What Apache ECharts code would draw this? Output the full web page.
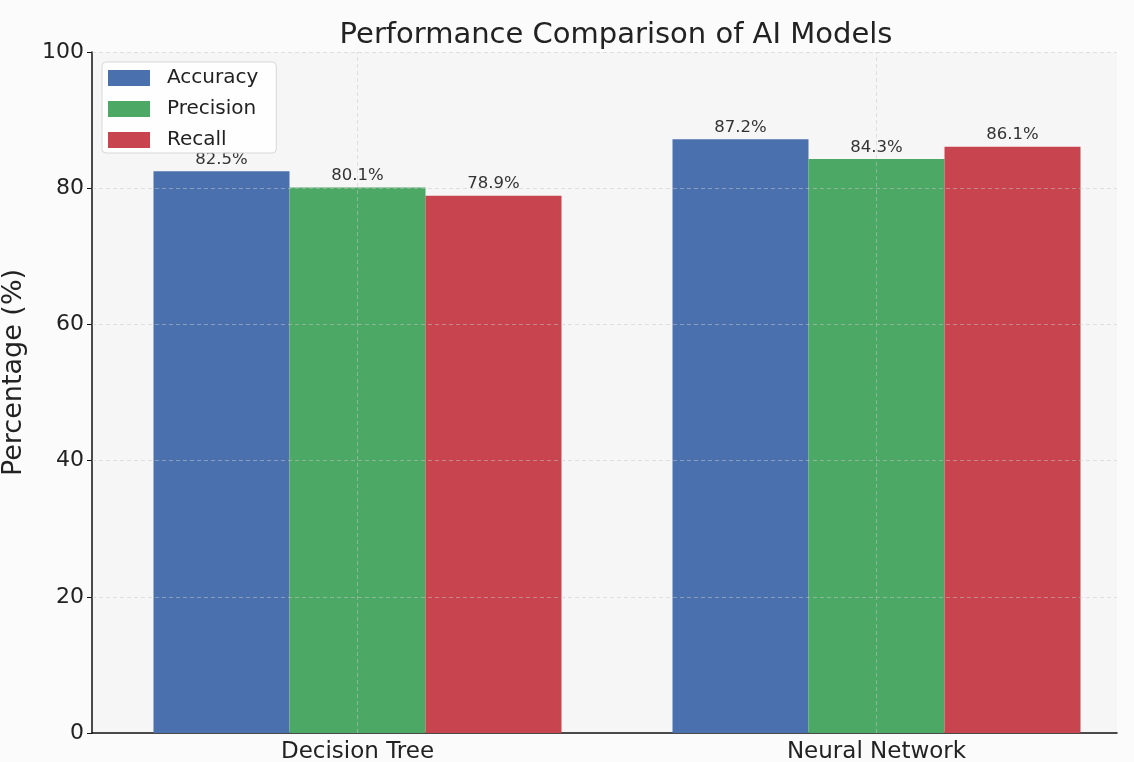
<!DOCTYPE html>
<html>
<head>
<meta charset="utf-8">
<script src="https://cdn.jsdelivr.net/npm/echarts@6/dist/echarts.min.js"></script>
<style>
html,body{margin:0;padding:0;background:#fbfbfb;}
#chart{width:1134px;height:762px;}
</style>
</head>
<body>
<div id="chart"></div>
<script>
var categories = ['Decision Tree', 'Neural Network'];
var seriesNames = ['Accuracy', 'Precision', 'Recall'];
var accuracy = [82.5, 87.2];
var precision = [80.1, 84.3];
var recall = [78.9, 86.1];
var yTicks = [0, 20, 40, 60, 80, 100];
var colors = ['#4a70ae', '#4ca865', '#c8454f'];

var font = 'DejaVu Sans';
var gridColor = 'rgba(200,200,200,0.5)';
var values = [accuracy, precision, recall];

var series = seriesNames.map(function (name, i) {
  return {
    name: name,
    type: 'bar',
    xAxisIndex: 1,
    yAxisIndex: 1,
    data: values[i],
    barWidth: 136,
    barGap: '0%',
    z: 2,
    itemStyle: { color: colors[i] },
    label: {
      show: true,
      position: 'top',
      distance: 3,
      formatter: '{c}%',
      fontFamily: font,
      fontSize: 16.5,
      color: '#333'
    }
  };
});
// vertical dashed grid lines at category centres (grid 1)
series.push({
  type: 'line', xAxisIndex: 1, yAxisIndex: 1, data: [], silent: true, z: 3,
  markLine: {
    silent: true, symbol: ['none', 'none'], label: { show: false },
    lineStyle: { type: [4, 3], color: gridColor, width: 1 },
    data: categories.map(function (c) { return { xAxis: c }; })
  }
});
// horizontal dashed grid lines (grid 0)
series.push({
  type: 'line', xAxisIndex: 0, yAxisIndex: 0, data: [], silent: true, z: 3,
  markLine: {
    silent: true, symbol: ['none', 'none'], label: { show: false },
    lineStyle: { type: [4, 3], color: gridColor, width: 1 },
    data: yTicks.slice(1).map(function (v) { return { yAxis: v }; })
  }
});

var chart = echarts.init(document.getElementById('chart'));
chart.setOption({
  backgroundColor: '#fbfbfb',
  animation: false,
  title: {
    text: 'Performance Comparison of AI Models',
    left: 611,
    textAlign: 'center',
    top: 16,
    textStyle: { fontFamily: font, fontSize: 29, fontWeight: 'normal', color: '#222' }
  },
  legend: {
    orient: 'vertical',
    left: 102,
    top: 62,
    itemWidth: 42,
    itemHeight: 16,
    itemGap: 11,
    padding: [6, 18, 3, 6],
    borderColor: '#d8d8d8',
    borderWidth: 1,
    borderRadius: 4,
    backgroundColor: 'rgba(255,255,255,0.85)',
    icon: 'rect',
    data: seriesNames,
    textStyle: { fontFamily: font, fontSize: 20, color: '#222', padding: [0, 0, 0, 12] }
  },
  grid: [
    { left: 92, right: 17, top: 52, bottom: 29, show: true, backgroundColor: '#f6f6f6', borderWidth: 0, containLabel: false, outerBoundsMode: 'none' },
    { left: 98, right: -2, top: 52, bottom: 29, containLabel: false, outerBoundsMode: 'none' }
  ],
  xAxis: [
    {
      gridIndex: 0, type: 'category', data: categories,
      axisLine: { show: true, lineStyle: { color: '#111', width: 1.5 } },
      axisTick: { show: false }, axisLabel: { show: false }, splitLine: { show: false }
    },
    {
      gridIndex: 1, type: 'category', data: categories,
      axisLine: { show: false }, axisTick: { show: false },
      axisLabel: { show: true, margin: 8, fontFamily: font, fontSize: 23, color: '#222' },
      splitLine: { show: false }
    }
  ],
  yAxis: [
    {
      gridIndex: 0, type: 'value', min: 0, max: 100, interval: 20,
      name: 'Percentage (%)',
      nameLocation: 'middle',
      nameGap: 65,
      nameTextStyle: { fontFamily: font, fontSize: 27, color: '#222', padding: [0, 0, 0, 40] },
      axisLine: { show: true, lineStyle: { color: '#111', width: 1.5 } },
      axisTick: { show: true, length: 5, lineStyle: { color: '#111' } },
      axisLabel: { margin: 8, fontFamily: font, fontSize: 22, color: '#222' },
      splitLine: { show: false }
    },
    {
      gridIndex: 1, type: 'value', min: 0, max: 100, interval: 20,
      axisLine: { show: false }, axisTick: { show: false }, axisLabel: { show: false }, splitLine: { show: false }
    }
  ],
  series: series
});
</script>
</body>
</html>
